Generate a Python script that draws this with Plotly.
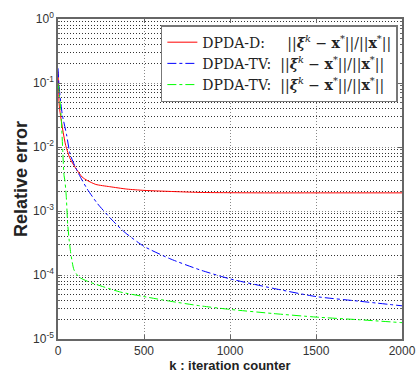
import plotly.graph_objects as go

# ---- data ----
k_red = [0, 3, 6, 10, 20, 30, 45, 70, 100, 140, 170, 220, 300, 400, 500, 700, 826, 1000, 1200, 1500, 2000]
err_red = [0.15, 0.09, 0.05, 0.038, 0.025, 0.017, 0.0105, 0.0066, 0.0048, 0.0034, 0.003, 0.0026, 0.0024,
           0.0022, 0.0021, 0.002, 0.00195, 0.00193, 0.00192, 0.00192, 0.00192]

k_blue = [0, 5, 10, 25, 50, 70, 100, 130, 170, 230, 315, 390, 500, 650, 826, 1000, 1250, 1500, 1750, 2000]
err_blue = [0.17, 0.1, 0.07, 0.032, 0.0155, 0.0078, 0.0049, 0.0034, 0.0022, 0.0013, 0.00072, 0.00046,
            0.00028, 0.00018, 0.00012, 8.7e-5, 6.2e-5, 4.6e-5, 3.9e-5, 3.3e-5]

k_green = [0, 5, 10, 15, 20, 28, 35, 40, 48, 56, 65, 74, 93, 122, 170, 267, 365, 500, 650, 826,
           1000, 1250, 1500, 1750, 2000]
err_green = [0.1, 0.08, 0.058, 0.04, 0.025, 0.0083, 0.0036, 0.003, 0.0017, 6.5e-4, 3.5e-4, 2.2e-4,
             1.2e-4, 9.3e-5, 8e-5, 6.5e-5, 5.4e-5, 4.6e-5, 3.9e-5, 3.3e-5, 2.9e-5, 2.5e-5, 2.2e-5,
             2.0e-5, 1.8e-5]

x_ticks = [0, 500, 1000, 1500, 2000]
y_ticks = [1, 0.1, 0.01, 0.001, 1e-4, 1e-5]
y_ticktext = ["10<sup>0</sup>", "10<sup>-1</sup>", "10<sup>-2</sup>", "10<sup>-3</sup>",
              "10<sup>-4</sup>", "10<sup>-5</sup>"]
y_minor = [m * 10.0 ** e for e in range(-5, 0) for m in range(2, 10)]

NB = "\u00a0"
MATH_BAR = "||<b><i>ξ̄</i></b><sup><i>k</i></sup> − <b>x</b><sup>*</sup>||/||<b>x</b><sup>*</sup>||"
MATH = "||<b><i>ξ</i></b><sup><i>k</i></sup> − <b>x</b><sup>*</sup>||/||<b>x</b><sup>*</sup>||"
lbl_red = "DPDA-D:" + NB * 5 + MATH_BAR
lbl_blue = "DPDA-TV:" + NB * 2 + MATH_BAR
lbl_green = "DPDA-TV:" + NB * 2 + MATH

fig = go.Figure()
fig.add_trace(go.Scatter(x=k_red, y=err_red, mode="lines", name=lbl_red,
                         line=dict(color="#ff0000", width=1, dash="solid", shape="spline", smoothing=0.6)))
fig.add_trace(go.Scatter(x=k_blue, y=err_blue, mode="lines", name=lbl_blue,
                         line=dict(color="#0000ff", width=1, dash="dashdot", shape="spline", smoothing=0.6)))
fig.add_trace(go.Scatter(x=k_green, y=err_green, mode="lines", name=lbl_green,
                         line=dict(color="#00ff00", width=1, dash="dashdot", shape="spline", smoothing=0.6)))

axis_font = dict(family="Liberation Sans, Arial, sans-serif", size=12, color="#333333")
DOT = "1px,2px"

fig.update_layout(
    width=417, height=375,
    margin=dict(l=58, r=15, t=19, b=36),
    paper_bgcolor="white", plot_bgcolor="white",
    showlegend=True,
    legend=dict(
        x=0.988, y=0.981, xanchor="right", yanchor="top",
        bgcolor="white", bordercolor="#777777", borderwidth=1.5,
        font=dict(family="DejaVu Serif, Liberation Serif, serif", size=14, color="#222222"),
        tracegroupgap=0, itemwidth=30,
    ),
    xaxis=dict(
        range=[0, 2000], tickvals=x_ticks, ticktext=[str(v) for v in x_ticks],
        showline=True, linecolor="#666666", linewidth=1.5, mirror="allticks",
        ticks="inside", ticklen=4, tickcolor="#666666",
        showgrid=True, gridcolor="#888888", griddash=DOT, gridwidth=1,
        zeroline=False, tickfont=axis_font, automargin=False,
        title=dict(text="<b>k : iteration counter</b>", standoff=2,
                   font=dict(family="Liberation Sans, Arial, sans-serif", size=13, color="#222222")),
    ),
    yaxis=dict(
        type="log", range=[-5, 0], tickvals=y_ticks, ticktext=y_ticktext,
        showline=True, linecolor="#666666", linewidth=1.5, mirror="allticks",
        ticks="inside", ticklen=4, tickcolor="#666666",
        showgrid=True, gridcolor="#888888", griddash=DOT, gridwidth=1,
        minor=dict(tickvals=y_minor, ticks="inside", ticklen=2, tickcolor="#666666",
                   showgrid=True, gridcolor="#333333", griddash=DOT, gridwidth=1),
        zeroline=False, tickfont=axis_font, automargin=False,
        title=dict(text="<b>Relative error</b>", standoff=1,
                   font=dict(family="Liberation Sans, Arial, sans-serif", size=18, color="#222222")),
    ),
)

fig.write_html("out.html", config={"displayModeBar": False},
               post_script="document.body.style.margin='0';document.body.style.overflow='hidden';")
